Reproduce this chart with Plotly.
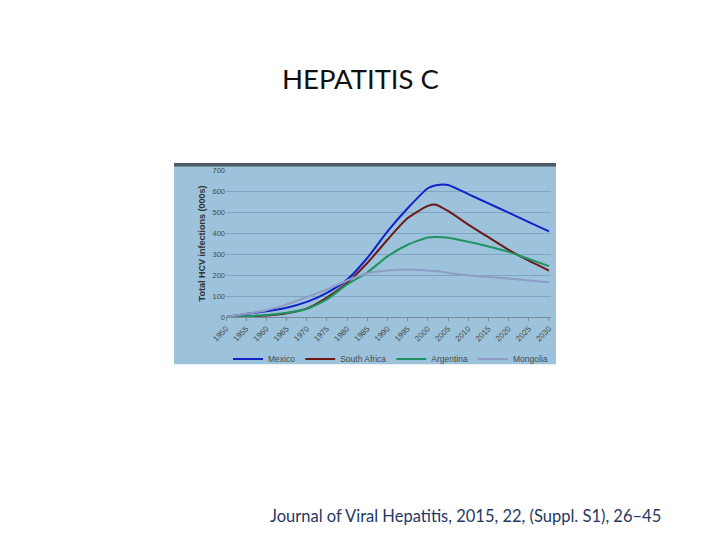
import plotly.graph_objects as go

years = [1950, 1955, 1960, 1965, 1970, 1975, 1980, 1985, 1990, 1995, 2000, 2002, 2005, 2010, 2015, 2020, 2025, 2030]
mexico = [0, 14, 27, 44, 72, 115, 178, 281, 408, 518, 613, 627, 629, 585, 541, 497, 452, 408]
south_africa = [0, 3, 7, 18, 40, 92, 163, 257, 368, 471, 529, 535, 505, 440, 380, 320, 268, 221]
argentina = [0, 4, 9, 20, 38, 84, 155, 212, 289, 344, 379, 381, 377, 358, 336, 310, 276, 242]
mongolia = [0, 15, 32, 60, 95, 131, 174, 208, 221, 226, 221, 219, 210, 199, 190, 183, 174, 166]

series = [
    ("Mexico", mexico, "#1022c8"),
    ("South Africa", south_africa, "#701818"),
    ("Argentina", argentina, "#1f9462"),
    ("Mongolia", mongolia, "#8e9cc6"),
]

tick_years = list(range(1950, 2031, 5))
y_ticks = [0, 100, 200, 300, 400, 500, 600, 700]

fig = go.Figure()
for name, vals, col in series:
    fig.add_trace(go.Scatter(
        x=years, y=vals, name=name, mode="lines",
        line=dict(color=col, width=2, shape="spline", smoothing=0.6),
    ))

OFF = 8  # page body margin
FW, FH = 720 - OFF, 540 - OFF
# plot area in page px: x 226..551, y 170..317.5
L, R, T, B = 226 - OFF, 551 - OFF, 170 - OFF, 317.5 - OFF
W, H = R - L, B - T

def px(x):
    return (x - OFF - L) / W

def py(y):
    return (B - (y - OFF)) / H

shapes = [
    dict(type="rect", xref="paper", yref="paper", x0=px(174), x1=px(556), y0=py(365), y1=py(163),
         fillcolor="#9cc3db", line=dict(width=0), layer="below"),
    dict(type="rect", xref="paper", yref="paper", x0=px(174), x1=px(556), y0=py(166.5), y1=py(163),
         fillcolor="#4d5b67", line=dict(width=0), layer="below"),
]

fig.update_layout(
    width=FW, height=FH,
    margin=dict(l=L, r=FW - R, t=T, b=FH - B),
    paper_bgcolor="white",
    plot_bgcolor="rgba(0,0,0,0)",
    shapes=shapes,
    font=dict(family="Liberation Sans, Arial, sans-serif", size=7, color="#4a4a4a"),
    showlegend=True,
    legend=dict(orientation="h", x=px(228), y=py(345), xanchor="left", yanchor="top",
                bgcolor="rgba(0,0,0,0)", font=dict(size=8.5, color="#4a4a4a"),
                itemwidth=30, tracegroupgap=0),
    xaxis=dict(range=[1950, 2030.5], tickmode="array", tickvals=tick_years,
               ticktext=[str(t) for t in tick_years], tickangle=-45,
               showgrid=False, zeroline=False, showline=True, linecolor="#7a8a96", linewidth=1,
               ticks="outside", ticklen=3, tickcolor="#7a8a96", tickfont=dict(size=8, color="#4a4a4a")),
    yaxis=dict(range=[0, 700], tickmode="array", tickvals=y_ticks,
               showgrid=True, gridcolor="#7fa5c1", gridwidth=1, zeroline=False,
               showline=False, ticks="", tickfont=dict(size=7.5, color="#4a4a4a"),
               title=dict(text="<b>Total HCV infections (000s)</b>", font=dict(size=9, color="#333333"), standoff=5)),
    annotations=[
        dict(text="HEPATITIS C", xref="paper", yref="paper", x=px(360), y=py(78),
             showarrow=False, font=dict(family="Lato, Open Sans, sans-serif", size=27.5, color="#111111"),
             xanchor="center", yanchor="middle"),
        dict(text="Journal of Viral Hepatitis, 2015, 22, (Suppl. S1), 26–45", xref="paper", yref="paper",
             x=px(465), y=py(517), showarrow=False,
             font=dict(family="Lato, Open Sans, sans-serif", size=16.5, color="#1f3864"),
             xanchor="center", yanchor="middle"),
    ],
)

fig.write_html("out.html")
